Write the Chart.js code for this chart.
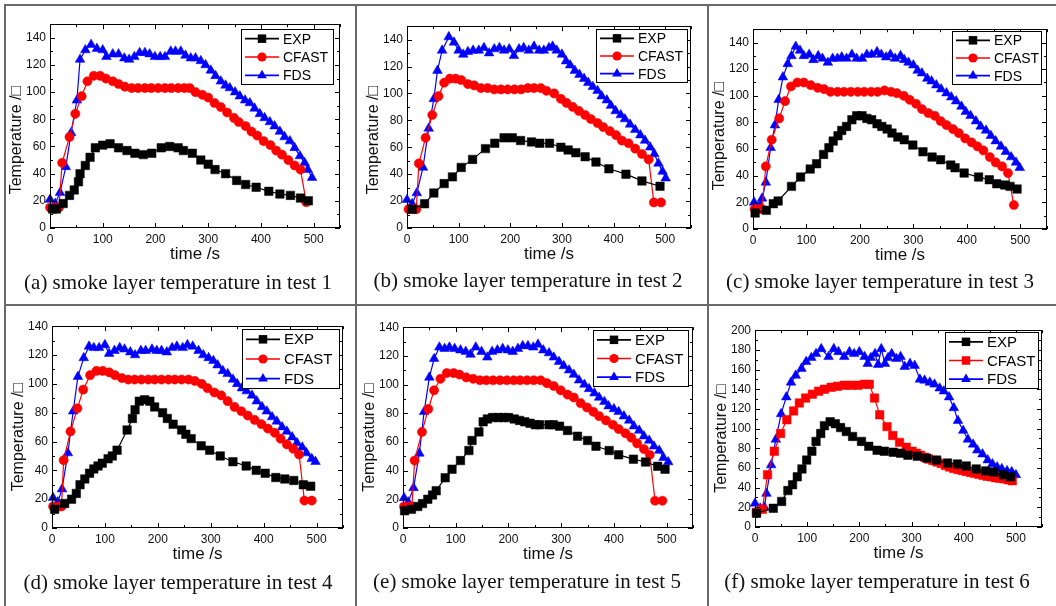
<!DOCTYPE html>
<html>
<head>
<meta charset="utf-8">
<script src="https://cdn.jsdelivr.net/npm/chart.js@4.4.1/dist/chart.umd.min.js"></script>
<style>
  html, body { margin: 0; padding: 0; background: #fff; }
  body { width: 1056px; height: 606px; position: relative; overflow: hidden; }
  .rule { position: absolute; background: #6a6a6a; }
  canvas { position: absolute; }
  .cap {
    position: absolute;
    font-family: "Liberation Serif", "Times New Roman", serif;
    font-size: 21px;
    color: #111;
    white-space: nowrap;
    transform: translate(-50%, -50%);
  }
</style>
</head>
<body>
<div class="rule" style="left:4px;top:4px;width:1052px;height:2px"></div>
<div class="rule" style="left:4px;top:304px;width:1052px;height:2px"></div>
<div class="rule" style="left:4px;top:4px;width:2px;height:602px"></div>
<div class="rule" style="left:355px;top:4px;width:2px;height:602px"></div>
<div class="rule" style="left:707px;top:4px;width:2px;height:602px"></div>

<script>
// Axis ticks
const X_TICKS = [0, 100, 200, 300, 400, 500];
const Y_TICKS_140 = [0, 20, 40, 60, 80, 100, 120, 140];
const Y_TICKS_200 = [0, 20, 40, 60, 80, 100, 120, 140, 160, 180, 200];

const SERIES_NAMES = ['EXP', 'CFAST', 'FDS'];
const X_TITLE = 'time /s';
const Y_TITLE = 'Temperature /\u25A1';

const CAPTION_1 = '(a) smoke layer temperature in test 1';
const CAPTION_2 = '(b) smoke layer temperature in test 2';
const CAPTION_3 = '(c) smoke layer temperature in test 3';
const CAPTION_4 = '(d) smoke layer temperature in test 4';
const CAPTION_5 = '(e) smoke layer temperature in test 5';
const CAPTION_6 = '(f) smoke layer temperature in test 6';

// test 1  [time s, temperature]
const EXP_1 = [[5,14],[12,14],[25,18],[37,24],[46,28],[54,34],[57,40],[67,46],[76,52],[86,59],[100,61],[114,62],[130,59],[146,57],[161,55],[177,54],[193,55],[211,59],[227,60],[243,59],[253,57],[270,55],[286,50],[300,47],[313,43],[333,40],[354,35],[371,32],[391,30],[415,27],[436,25],[456,24],[475,22],[490,20]];
const CFAST_1 = [[0,15],[9,15],[17,15],[23,48],[37,67],[48,84],[60,97],[71,108],[83,112],[95,112],[106,110],[119,108],[130,106],[142,104],[155,103],[167,103],[180,103],[192,103],[205,103],[218,103],[230,103],[243,103],[255,103],[265,103],[276,100],[289,98],[300,96],[312,92],[324,89],[336,85],[349,81],[358,78],[371,75],[382,71],[393,68],[405,64],[418,61],[429,57],[440,54],[452,50],[464,46],[475,43],[486,19]];
const FDS_1 = [[0,21],[10,18],[19,26],[30,45],[40,70],[51,94],[57,124],[67,131],[78,135],[89,132],[100,131],[107,126],[119,128],[130,128],[141,125],[150,124],[160,126],[170,129],[180,129],[189,128],[199,126],[209,126],[218,126],[229,130],[238,130],[248,130],[257,127],[267,125],[276,125],[286,123],[295,120],[305,116],[314,112],[324,108],[333,105],[341,103],[351,100],[360,97],[370,94],[379,92],[388,88],[398,84],[407,81],[417,78],[426,75],[436,71],[445,67],[455,64],[464,59],[474,53],[483,48],[489,43],[497,37]];

// test 2
const EXP_2 = [[10,14],[34,18],[52,26],[72,33],[88,38],[105,45],[127,51],[152,59],[170,63],[188,67],[204,67],[220,65],[241,64],[257,63],[276,63],[298,60],[312,58],[327,56],[345,53],[366,49],[391,44],[424,40],[455,35],[490,31]];
const CFAST_2 = [[3,14],[14,14],[18,14],[23,48],[36,67],[49,84],[61,98],[72,108],[83,111],[94,111],[105,110],[118,107],[130,106],[143,104],[156,104],[169,103],[182,103],[195,103],[208,103],[221,103],[234,104],[246,104],[259,104],[270,102],[285,100],[298,96],[309,93],[321,90],[333,87],[345,84],[356,81],[369,78],[380,75],[393,72],[405,69],[416,65],[429,63],[442,59],[455,55],[468,51],[478,19],[492,19]];
const FDS_2 = [[0,21],[10,18],[19,26],[31,45],[42,74],[52,96],[59,117],[68,132],[81,142],[91,138],[100,132],[109,129],[118,131],[128,132],[139,132],[149,134],[159,130],[169,133],[179,134],[188,132],[198,133],[207,128],[217,133],[226,134],[236,132],[246,135],[256,132],[265,132],[275,134],[282,135],[290,132],[300,129],[308,124],[316,121],[325,117],[334,114],[343,111],[351,108],[360,105],[369,102],[377,98],[387,95],[395,91],[404,87],[414,84],[422,81],[432,77],[442,73],[452,69],[461,65],[471,60],[479,55],[487,48],[495,42],[501,37]];

// test 3
const EXP_3 = [[4,12],[25,14],[38,19],[47,21],[72,32],[89,39],[107,45],[119,49],[132,56],[142,61],[150,66],[159,70],[166,74],[175,77],[185,82],[194,85],[204,85],[213,83],[222,82],[232,79],[241,77],[251,75],[260,72],[271,69],[283,67],[299,63],[318,58],[335,54],[351,52],[370,48],[378,46],[395,42],[422,39],[442,37],[456,34],[471,33],[481,32],[494,30]];
const CFAST_3 = [[3,15],[13,15],[17,15],[24,47],[35,67],[49,83],[60,96],[71,107],[83,110],[95,110],[108,108],[121,106],[133,105],[145,103],[158,103],[170,103],[183,103],[196,103],[208,103],[221,103],[233,103],[246,104],[258,103],[269,102],[282,100],[293,97],[305,94],[316,90],[328,87],[340,85],[351,81],[362,78],[374,75],[385,72],[397,68],[409,65],[420,62],[431,59],[443,54],[454,50],[466,47],[477,42],[488,18]];
const FDS_3 = [[2,20],[13,18],[17,23],[24,35],[33,61],[41,78],[48,97],[56,114],[65,124],[72,130],[80,137],[88,134],[95,130],[105,131],[113,127],[122,130],[130,128],[140,125],[149,128],[158,128],[166,129],[175,128],[185,131],[194,128],[204,128],[213,131],[222,131],[232,133],[240,131],[249,129],[257,131],[266,128],[276,130],[283,127],[291,125],[300,123],[308,119],[316,117],[326,113],[334,111],[343,108],[352,105],[362,102],[371,99],[380,96],[390,92],[398,88],[407,85],[417,81],[426,77],[436,74],[445,70],[454,66],[464,62],[473,58],[483,54],[492,50],[499,46]];

// test 4
const EXP_4 = [[5,13],[24,17],[37,20],[46,24],[53,30],[62,34],[71,38],[79,41],[87,43],[95,45],[106,48],[114,50],[123,54],[142,68],[152,76],[157,82],[165,88],[175,89],[185,88],[194,84],[209,80],[218,76],[229,72],[245,68],[253,65],[263,62],[282,57],[298,54],[318,50],[342,46],[367,43],[386,40],[403,38],[423,35],[440,34],[457,33],[475,30],[489,29]];
const CFAST_4 = [[2,15],[13,15],[18,15],[22,47],[35,67],[48,83],[59,96],[72,106],[84,109],[96,109],[108,108],[119,106],[132,104],[144,103],[156,103],[169,103],[182,103],[194,103],[207,103],[220,103],[232,103],[245,103],[258,103],[270,102],[283,100],[294,97],[307,94],[320,92],[332,88],[345,84],[358,81],[370,78],[383,75],[396,72],[408,69],[421,66],[432,62],[444,58],[456,55],[467,51],[477,19],[491,19]];
const FDS_4 = [[2,21],[11,18],[19,27],[30,52],[40,81],[49,105],[60,118],[70,126],[79,125],[89,125],[100,127],[108,121],[118,123],[128,125],[137,124],[148,122],[157,120],[168,123],[177,123],[189,124],[198,123],[207,123],[217,122],[227,125],[236,126],[247,125],[256,127],[266,126],[277,123],[286,120],[296,118],[305,116],[313,113],[323,109],[332,107],[342,103],[350,100],[359,97],[368,95],[378,92],[387,88],[397,84],[406,81],[416,77],[425,74],[435,70],[444,67],[454,63],[463,59],[473,56],[481,52],[491,48],[498,46]];

// test 5
const EXP_5 = [[3,12],[16,13],[28,15],[37,17],[47,20],[56,23],[63,26],[80,35],[93,41],[109,47],[125,54],[131,61],[144,67],[152,74],[160,76],[170,77],[181,77],[190,77],[200,77],[211,76],[221,75],[231,74],[241,73],[251,72],[259,72],[277,72],[285,72],[297,71],[312,68],[331,64],[350,61],[366,57],[391,54],[409,51],[437,48],[460,46],[483,43],[497,41]];
const CFAST_5 = [[2,15],[12,15],[17,15],[22,47],[36,67],[48,83],[59,96],[71,104],[83,108],[96,108],[107,107],[120,105],[133,104],[146,103],[158,103],[171,103],[184,103],[197,103],[210,103],[222,103],[235,103],[248,103],[261,103],[273,101],[286,99],[299,96],[312,93],[324,91],[337,87],[349,84],[361,81],[372,78],[385,75],[398,72],[409,69],[422,66],[433,63],[444,59],[457,55],[468,51],[478,19],[492,19]];
const FDS_5 = [[2,21],[10,18],[20,28],[31,52],[40,81],[50,105],[59,118],[69,126],[79,125],[88,126],[98,125],[109,124],[119,123],[128,121],[138,126],[149,123],[160,119],[169,123],[179,124],[189,125],[199,124],[208,123],[218,125],[227,127],[237,127],[247,126],[256,128],[266,124],[277,122],[286,119],[296,116],[305,113],[315,110],[324,107],[334,103],[344,100],[353,97],[363,94],[372,91],[382,88],[390,85],[400,83],[409,81],[419,78],[429,75],[438,71],[448,68],[457,64],[467,61],[476,57],[486,54],[494,49],[503,46]];

// test 6
const EXP_6 = [[3,14],[35,19],[51,26],[63,37],[72,43],[81,51],[90,59],[99,68],[109,77],[117,87],[126,95],[133,103],[144,107],[154,105],[164,101],[175,97],[187,92],[204,87],[218,82],[234,78],[248,77],[265,76],[279,75],[293,73],[311,72],[329,70],[348,68],[369,65],[388,64],[405,62],[424,59],[442,57],[458,56],[476,53],[490,51]];
const CFAST_6 = [[3,15],[14,18],[24,53],[37,77],[49,95],[61,109],[74,118],[85,126],[97,131],[110,135],[122,138],[133,140],[146,142],[158,143],[171,144],[184,144],[197,144],[210,145],[219,145],[229,131],[239,114],[253,102],[264,93],[277,86],[290,81],[301,77],[309,75],[317,73],[325,71],[333,69],[341,67.5],[349,66],[357,64.5],[365,62.5],[373,61],[381,59.5],[389,58.5],[397,57.5],[405,56.5],[413,55.5],[421,54.5],[429,53.5],[437,52.5],[445,51.5],[453,51],[461,50],[469,49.5],[477,49],[485,48],[493,47]];
const FDS_6 = [[0,24],[10,19],[18,20],[22,34],[31,63],[40,89],[50,115],[60,132],[69,147],[78,154],[89,161],[98,168],[108,172],[117,176],[127,181],[141,173],[151,181],[160,178],[171,173],[181,178],[190,176],[200,178],[210,173],[216,166],[222,172],[230,176],[236,165],[242,181],[249,166],[255,172],[262,176],[271,171],[279,173],[287,163],[297,166],[306,164],[316,150],[325,149],[335,147],[344,145],[354,141],[362,138],[372,132],[381,121],[389,108],[399,98],[408,89],[418,84],[426,78],[436,74],[446,68],[455,64],[464,61],[473,59],[483,57],[492,56],[500,53]];

// plot boxes in page pixels: [left, top, right, bottom]
const PANELS = [
  { exp: EXP_1, cfast: CFAST_1, fds: FDS_1, yMax: 150, yTicks: Y_TICKS_140, box: [50, 23, 340, 228], cap: [178, 282], caption: CAPTION_1, cfastShape: 'circle', titleDy: 14, legend: { w: 92, h: 55, right: 7, top: 5, fs: 14 } },
  { exp: EXP_2, cfast: CFAST_2, fds: FDS_2, yMax: 150, yTicks: Y_TICKS_140, box: [407, 25, 691, 228], cap: [528, 280], caption: CAPTION_2, cfastShape: 'circle', titleDy: 13, legend: { w: 91, h: 53, right: 4, top: 3, fs: 14 } },
  { exp: EXP_3, cfast: CFAST_3, fds: FDS_3, yMax: 150, yTicks: Y_TICKS_140, box: [753, 28, 1047, 229], cap: [880, 281], caption: CAPTION_3, cfastShape: 'circle', titleDy: 7, legend: { w: 89, h: 53, right: 6, top: 2, fs: 14 } },
  { exp: EXP_4, cfast: CFAST_4, fds: FDS_4, yMax: 140, yTicks: Y_TICKS_140, box: [52, 325, 343, 528], cap: [178, 582], caption: CAPTION_4, cfastShape: 'circle', titleDy: 10, legend: { w: 97, h: 59, right: 4, top: 3, fs: 15 } },
  { exp: EXP_5, cfast: CFAST_5, fds: FDS_5, yMax: 140, yTicks: Y_TICKS_140, box: [403, 326, 693, 528], cap: [527, 581], caption: CAPTION_5, cfastShape: 'circle', titleDy: 10, legend: { w: 95, h: 56, right: 5, top: 3, fs: 15 } },
  { exp: EXP_6, cfast: CFAST_6, fds: FDS_6, yMax: 200, yTicks: Y_TICKS_200, box: [755, 329, 1042, 527], cap: [877, 581], caption: CAPTION_6, cfastShape: 'rect', titleDy: 10, legend: { w: 93, h: 56, right: 4, top: 2, fs: 15 } },
];

const AXIS_W = 56;   // room left of the plot for y labels + title
const AXIS_H = 42;   // room under the plot for x labels + title
const PAD_T = 10, PAD_R = 12;
const SANS = '"Liberation Sans", Arial, sans-serif';

function drawMarker(ctx, shape, x, y, r) {
  ctx.beginPath();
  if (shape === 'rect') {
    const s = r * Math.SQRT1_2;
    ctx.rect(x - s, y - s, 2 * s, 2 * s);
  } else if (shape === 'triangle') {
    for (let k = 0; k < 3; k++) {
      const a = k * 2 * Math.PI / 3;
      const px = x + Math.sin(a) * r, py = y - Math.cos(a) * r;
      k ? ctx.lineTo(px, py) : ctx.moveTo(px, py);
    }
    ctx.closePath();
  } else {
    ctx.arc(x, y, r, 0, Math.PI * 2);
  }
  ctx.fill();
}

// Origin-style closed frame with inward ticks on all sides
const framePlugin = {
  id: 'frame',
  afterDatasetsDraw(chart, args, opts) {
    const { ctx, chartArea: a, scales: { x, y } } = chart;
    ctx.save();
    ctx.strokeStyle = '#000';
    ctx.lineWidth = 1;
    ctx.strokeRect(Math.round(a.left) + 0.5, Math.round(a.top) + 0.5, Math.round(a.width) - 1, Math.round(a.height) - 1);
    ctx.beginPath();
    for (let v = 0; v <= x.max; v += 50) {
      const px = Math.round(x.getPixelForValue(v)) + 0.5;
      const len = v % 100 === 0 ? 5 : 3;
      ctx.moveTo(px, a.bottom); ctx.lineTo(px, a.bottom - len);
      ctx.moveTo(px, a.top); ctx.lineTo(px, a.top + len);
    }
    for (let v = 0; v <= y.max; v += 10) {
      const py = Math.round(y.getPixelForValue(v)) + 0.5;
      const len = v % 20 === 0 ? 5 : 3;
      ctx.moveTo(a.left, py); ctx.lineTo(a.left + len, py);
      ctx.moveTo(a.right, py); ctx.lineTo(a.right - len, py);
    }
    ctx.stroke();
    ctx.restore();
  }
};

// y title, drawn by hand so it can sit a little below the plot's middle like the original
const yTitlePlugin = {
  id: 'yTitle',
  afterDraw(chart, args, opts) {
    const { ctx, chartArea: a } = chart;
    ctx.save();
    ctx.translate(a.left - 33, (a.top + a.bottom) / 2 + opts.dy);
    ctx.rotate(-Math.PI / 2);
    ctx.fillStyle = '#111';
    ctx.font = '16px ' + SANS;
    ctx.textAlign = 'center';
    ctx.textBaseline = 'middle';
    ctx.fillText(Y_TITLE, 0, 0);
    ctx.restore();
  }
};

const boxLegendPlugin = {
  id: 'boxLegend',
  afterDatasetsDraw(chart, args, opts) {
    const { ctx, chartArea: a } = chart;
    const x0 = Math.round(a.right - opts.right - opts.w);
    const y0 = Math.round(a.top + opts.top);
    ctx.save();
    ctx.fillStyle = '#fff';
    ctx.fillRect(x0, y0, opts.w, opts.h);
    ctx.strokeStyle = '#000';
    ctx.lineWidth = 1;
    ctx.strokeRect(x0 + 0.5, y0 + 0.5, opts.w, opts.h);
    const rowH = opts.h / 3;
    chart.data.datasets.forEach((ds, i) => {
      const cy = y0 + rowH * (i + 0.5) + 0.5;
      ctx.strokeStyle = ds.borderColor;
      ctx.lineWidth = 1.6;
      ctx.beginPath();
      ctx.moveTo(x0 + 4, cy);
      ctx.lineTo(x0 + 38, cy);
      ctx.stroke();
      ctx.fillStyle = ds.pointBackgroundColor;
      drawMarker(ctx, ds.pointStyle, x0 + 21, cy, ds.pointRadius);
      ctx.fillStyle = '#000';
      ctx.font = opts.fs + 'px ' + SANS;
      ctx.textBaseline = 'middle';
      ctx.fillText(ds.label, x0 + 42, cy + 1);
    });
    ctx.restore();
  }
};

const toXY = (pts) => pts.map(([x, y]) => ({ x, y }));

function makeSeries(label, pts, color, shape, radius) {
  return {
    label,
    data: toXY(pts),
    borderColor: color,
    backgroundColor: color,
    pointBackgroundColor: color,
    pointBorderColor: color,
    pointBorderWidth: 0.5,
    pointStyle: shape,
    pointRadius: radius,
    borderWidth: 1.2,
    tension: 0,
    clip: 10,
  };
}

PANELS.forEach((p) => {
  const [L, T, R, B] = p.box;
  const canvas = document.createElement('canvas');
  const w = R - L + AXIS_W + PAD_R;
  const h = B - T + PAD_T + AXIS_H;
  canvas.width = w;
  canvas.height = h;
  canvas.style.left = (L - AXIS_W) + 'px';
  canvas.style.top = (T - PAD_T) + 'px';
  canvas.style.width = w + 'px';
  canvas.style.height = h + 'px';
  document.body.appendChild(canvas);

  const cap = document.createElement('div');
  cap.className = 'cap';
  cap.textContent = p.caption;
  cap.style.left = p.cap[0] + 'px';
  cap.style.top = p.cap[1] + 'px';
  document.body.appendChild(cap);

  new Chart(canvas.getContext('2d'), {
    type: 'line',
    data: {
      datasets: [
        makeSeries(SERIES_NAMES[0], p.exp, '#000000', 'rect', 6),
        makeSeries(SERIES_NAMES[1], p.cfast, '#ff0000', p.cfastShape, p.cfastShape === 'rect' ? 6 : 4.6),
        makeSeries(SERIES_NAMES[2], p.fds, '#0000ff', 'triangle', 5.6),
      ],
    },
    options: {
      responsive: false,
      animation: false,
      devicePixelRatio: 1,
      layout: { padding: { left: 0, top: PAD_T, right: PAD_R, bottom: 0 } },
      plugins: {
        legend: { display: false },
        tooltip: { enabled: false },
        boxLegend: p.legend,
        yTitle: { dy: p.titleDy },
      },
      scales: {
        x: {
          type: 'linear',
          min: 0,
          max: 550,
          grid: { display: false, drawTicks: false },
          border: { display: false },
          ticks: { font: { size: 12, family: SANS }, color: '#111', padding: 4, maxRotation: 0, autoSkip: false },
          afterBuildTicks: (s) => { s.ticks = X_TICKS.map((v) => ({ value: v })); },
          afterFit: (s) => { s.height = AXIS_H; },
          title: { display: true, text: X_TITLE, color: '#111', font: { size: 17, family: SANS }, padding: { top: 0, bottom: 5 } },
        },
        y: {
          type: 'linear',
          min: 0,
          max: p.yMax,
          grid: { display: false, drawTicks: false },
          border: { display: false },
          ticks: { font: { size: 12, family: SANS }, color: '#111', padding: 4, autoSkip: false },
          afterBuildTicks: (s) => { s.ticks = p.yTicks.map((v) => ({ value: v })); },
          afterFit: (s) => { s.width = AXIS_W; },
        },
      },
    },
    plugins: [framePlugin, boxLegendPlugin, yTitlePlugin],
  });
});
</script>
</body>
</html>
